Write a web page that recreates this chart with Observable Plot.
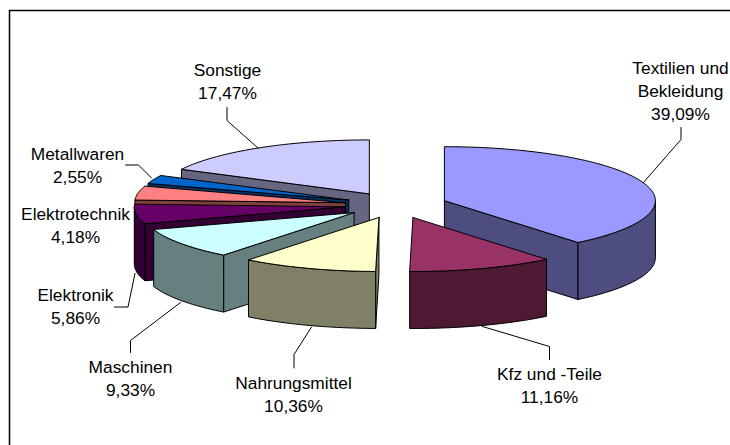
<!DOCTYPE html>
<html>
<head>
<meta charset="utf-8">
<script src="https://cdn.jsdelivr.net/npm/d3@7"></script>
<script src="https://cdn.jsdelivr.net/npm/@observablehq/plot@0.6"></script>
<style>
html,body{margin:0;padding:0;background:#fff}
svg{display:block}
</style>
</head>
<body>
<div id="chart"></div>
<script>
// Data
const categories = ["Textilien und\nBekleidung","Kfz und -Teile","Nahrungsmittel","Maschinen","Elektronik","Elektrotechnik","Metallwaren","Sonstige"];
const shares = [39.09,11.16,10.36,9.33,5.86,4.18,2.55,17.47];
const topColors = ["#9999FF","#993366","#FFFFCC","#CCFFFF","#660066","#FF8080","#0066CC","#CCCCFF"];
const sideColors = ["#4D4D80","#4D1933","#808066","#668080","#330033","#804040","#003366","#666680"];
const drawOrder = [7,0,6,5,4,3,1,2];

// Label placement: centre x and first-line baseline, by slice
const labelX = [680,549,293,130,75,75,77,227];
const labelY = [74,380,389,373,301.5,220,160,76.5];
// Leader polylines per slice (none for Elektrotechnik)
const leaders = [
  [[680.5,127],[680.5,139],[643,182]],
  [[549,359],[549,346],[482,326]],
  [[293.5,367.5],[293.5,354],[311,326.5]],
  [[130,352],[130,340],[180,302]],
  [[114,306.5],[127.5,306.5],[134.5,273]],
  [],
  [[125,164.5],[138,164.5],[151,177.5]],
  [[226.5,107],[226.5,120],[257.5,147.5]]
];

// Pie geometry
const cx = 395.6, cy = 204.6, rx = 211, ry = 54, depth = 57, explode = 0.243;
const fontSize = 17.33;

const total = d3.sum(shares);
const ends = d3.cumsum(shares).map(s => (s / total) * 360);
const slices = shares.map((v, i) => {
  const a0 = i === 0 ? 0 : ends[i - 1];
  const a1 = ends[i];
  const mid = ((a0 + a1) / 2) * Math.PI / 180;
  return {
    a0, a1,
    c: [cx + explode * rx * Math.sin(mid), cy - explode * ry * Math.cos(mid)]
  };
});
const pt = (c, a, dz = 0) => {
  const r = a * Math.PI / 180;
  return [c[0] + rx * Math.sin(r), c[1] - ry * Math.cos(r) + dz];
};
const arc = (c, a0, a1, dz = 0) => {
  const n = Math.max(2, Math.ceil(Math.abs(a1 - a0) / 1.5));
  return d3.range(n + 1).map(k => pt(c, a0 + (a1 - a0) * k / n, dz));
};
const poly = (pts, fill) => Plot.line([...pts, pts[0]], {
  x: d => d[0], y: d => d[1], fill, stroke: "#000", strokeWidth: 1, curve: "linear"
});

const faces = [];
for (const i of drawOrder) {
  const {a0, a1, c} = slices[i];
  const below = [c[0], c[1] + depth];
  if (a0 >= 180) faces.push(poly([c, pt(c, a0), pt(c, a0, depth), below], sideColors[i]));
  if (a1 <= 180) faces.push(poly([c, pt(c, a1), pt(c, a1, depth), below], sideColors[i]));
  const w0 = Math.max(a0, 90), w1 = Math.min(a1, 270);
  if (w1 > w0) faces.push(poly([...arc(c, w0, w1), ...arc(c, w1, w0, depth)], sideColors[i]));
  faces.push(poly([c, ...arc(c, a0, a1)], topColors[i]));
}

const labels = categories.map((name, i) => ({
  text: name + "\n" + shares[i].toFixed(2).replace(".", ",") + "%",
  x: labelX[i], y: labelY[i]
}));

const plot = Plot.plot({
  width: 730, height: 445,
  margin: 0,
  x: {domain: [0, 730], range: [0, 730], axis: null},
  y: {domain: [0, 445], range: [0, 445], axis: null},
  style: {fontFamily: "'Liberation Sans', Arial, sans-serif", background: "#fff"},
  marks: [
    Plot.ruleY([10], {x1: 9, x2: 730, stroke: "#000", strokeWidth: 1.5}),
    Plot.ruleX([9], {y1: 10, y2: 445, stroke: "#000", strokeWidth: 1.5}),
    ...faces,
    ...leaders.filter(l => l.length).map(l => Plot.line(l, {x: d => d[0], y: d => d[1], stroke: "#000", strokeWidth: 1, curve: "linear"})),
    Plot.text(labels, {
      x: "x", y: "y", text: "text", fontSize, fill: "#000",
      textAnchor: "middle", lineAnchor: "top", lineHeight: 1.34, dy: -0.71 * fontSize - 5
    })
  ]
});
document.getElementById("chart").appendChild(plot);
</script>
</body>
</html>
